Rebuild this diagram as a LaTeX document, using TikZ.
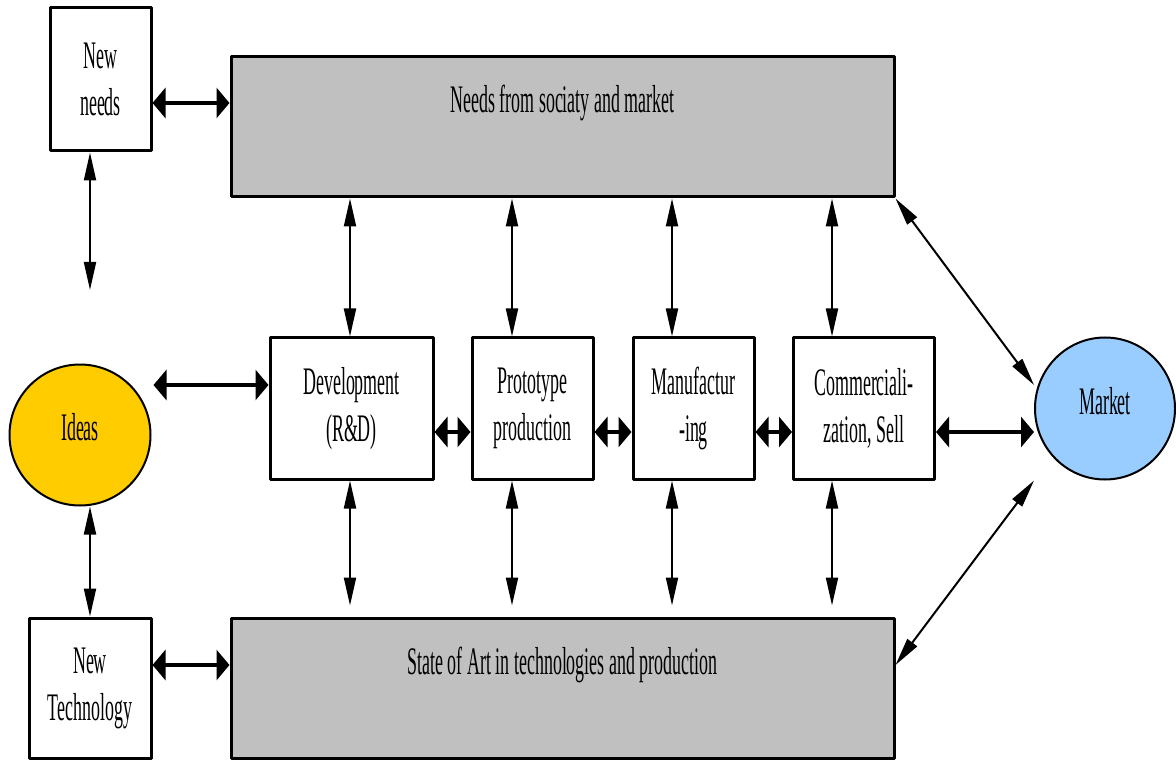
\documentclass[tikz,border=0pt]{standalone}
\usepackage{fontspec}
\setmainfont{Liberation Serif}[FakeStretch=0.46]
\usetikzlibrary{arrows.meta,shapes.geometric}
\definecolor{boxgray}{RGB}{192,192,192}
\definecolor{ideasgold}{RGB}{255,204,0}
\definecolor{marketblue}{RGB}{153,204,255}

\begin{document}
\begin{tikzpicture}[line cap=round,line join=round,x=0.5pt,y=0.5pt,
    box/.style={draw,line width=1.5pt,fill=white,align=center,inner sep=0pt,
      font=\fontsize{19.5}{23.5}\selectfont},
    graybox/.style={box,fill=boxgray},
    oval/.style={ellipse,draw,line width=1pt,inner sep=0pt,text depth=8pt,
      font=\fontsize{19.5}{23.5}\selectfont},
    lbl/.style={inner sep=0pt,font=\fontsize{19.5}{23.5}\selectfont},
    thinarr/.style={line width=1pt,
      {Triangle[length=14pt,width=6pt]}-{Triangle[length=14pt,width=6pt]}},
    fatarr/.style={line width=2.4pt,
      {Triangle[length=6.5pt,width=15pt]}-{Triangle[length=6.5pt,width=15pt]}}]
    \useasboundingbox (0,0) rectangle (1176,761);

    \node[box,minimum width=50.5pt,minimum height=71.5pt] (newneeds) at (100.5,681.5) {New\\needs};
    \node[graybox,minimum width=331.5pt,minimum height=70pt] (needs) at (562.5,634) {};
    \node[lbl] (needstxt) at (562.5,658) {Needs from sociaty and market};
    \node[oval,fill=ideasgold,minimum width=70.5pt,minimum height=70.5pt] (ideas) at (80,326) {Ideas};
    \node[box,minimum width=61pt,minimum height=70pt] (newtech) at (90,73) {New\\Technology};
    \node[graybox,minimum width=331.5pt,minimum height=70pt] (state) at (562.5,73) {};
    \node[lbl] (statetxt) at (562.5,96) {State of Art in technologies and production};

    \node[box,minimum width=81.5pt,minimum height=70.5pt] (dev) at (351.5,352.5) {Development\\(R\&D)};
    \node[box,minimum width=60.5pt,minimum height=70.5pt] (proto) at (532.5,352.5) {Prototype\\production};
    \node[box,minimum width=60.5pt,minimum height=70.5pt] (manuf) at (693.5,352.5) {Manufactur\\-ing};
    \node[box,minimum width=70.5pt,minimum height=70.5pt] (comm) at (864,352.5) {Commerciali-\\zation, Sell};
    \node[oval,fill=marketblue,minimum width=70pt,minimum height=71pt] (mkt) at (1105,352.5) {Market};

    \coordinate (nnend) at (90,471);
    \coordinate (idrow) at (0,376);
    \coordinate (lowrow) at (0,329);

    \draw[fatarr] (newneeds.east |- needstxt) -- (needs.west |- needstxt);
    \draw[thinarr] (nnend |- newneeds.south) -- (nnend);
    \draw[fatarr] ([xshift=1pt]ideas.east |- idrow) -- (dev.west |- idrow);
    \draw[thinarr] (newtech.north |- ideas.south) -- (newtech.north);
    \draw[fatarr] (newtech.east |- statetxt) -- (state.west |- statetxt);

    \draw[fatarr] (dev.east |- lowrow) -- (proto.west |- lowrow);
    \draw[fatarr] (proto.east |- lowrow) -- (manuf.west |- lowrow);
    \draw[fatarr] (manuf.east |- lowrow) -- (comm.west |- lowrow);
    \draw[fatarr] (comm.east |- lowrow) -- (mkt.west |- lowrow);

    \foreach \n/\dx in {dev/-0.75,proto/-10.25,manuf/-10.75,comm/-16} {
      \coordinate (t\n) at ([xshift=\dx pt]\n.north);
      \coordinate (b\n) at ([xshift=\dx pt]\n.south);
      \draw[thinarr] (t\n |- needs.south) -- (t\n);
      \draw[thinarr,shorten >=5.5pt] (b\n) -- (b\n |- state.north);
    }

    \draw[thinarr] (needs.south east) -- (mkt.west |- idrow);
    \draw[thinarr] (mkt.west |- mkt.south) -- (state.east |- statetxt);
  \end{tikzpicture}
\end{document}
